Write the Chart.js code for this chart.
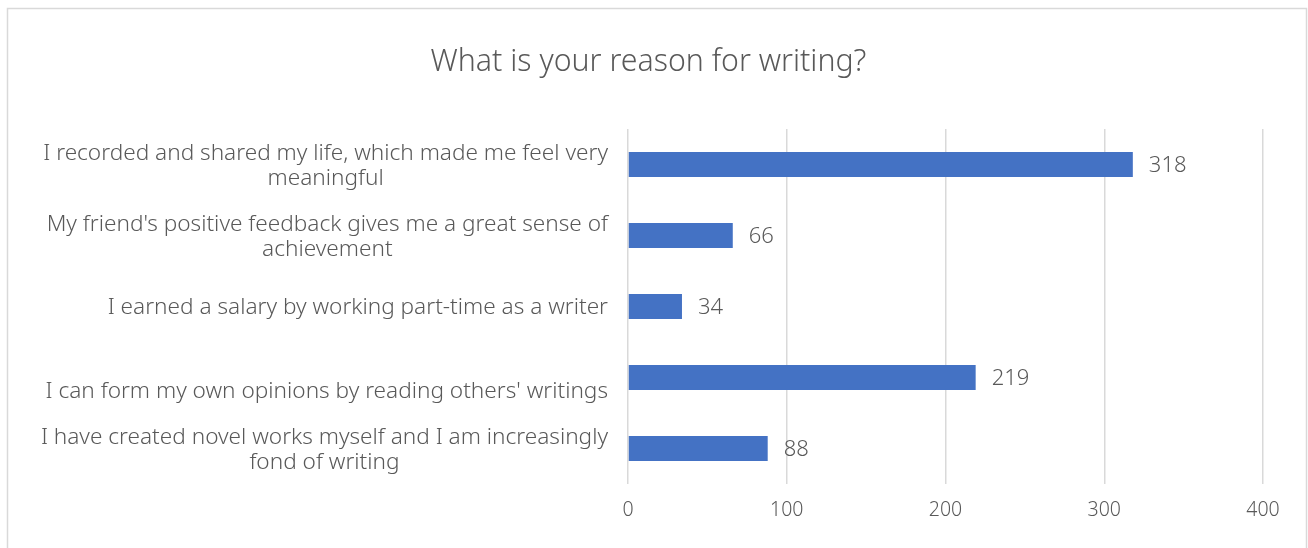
<!DOCTYPE html>
<html>
<head>
<meta charset="utf-8">
<script src="https://cdn.jsdelivr.net/npm/chart.js@4"></script>
<style>
  html, body { margin: 0; padding: 0; background: #fff; }
  #wrap { width: 1308px; height: 548px; }
</style>
</head>
<body>
<div id="wrap"><canvas id="reasonChart" width="1308" height="548"></canvas></div>
<script>
const chartTitle = 'What is your reason for writing?';
// label lines as they appear in the original (4th label has an empty first line)
const reasons = [
    ['I recorded and shared my life, which made me feel very', 'meaningful'],
    ["My friend's positive feedback gives me a great sense of", 'achievement'],
    ['I earned a salary by working part-time as a writer'],
    ['', "I can form my own opinions by reading others' writings"],
    ['I have created novel works myself and I am increasingly', 'fond of writing']
];
const counts = [318, 66, 34, 219, 88];
const xTicks = [0, 100, 200, 300, 400];

const FONT = '"Noto Sans", sans-serif';
const TEXT = '#595959';

// frame round the whole chart
const framePlugin = {
    id: 'frame',
    beforeDraw(chart) {
        const ctx = chart.ctx;
        ctx.save();
        ctx.strokeStyle = '#d9d9d9';
        ctx.lineWidth = 1.5;
        ctx.strokeRect(7.5, 8.5, 1299, 560);
        ctx.restore();
    }
};

// category labels: block right-aligned, lines centred inside the block
const categoryLabels = {
    id: 'categoryLabels',
    afterDraw(chart) {
        const ctx = chart.ctx;
        const yScale = chart.scales.y;
        const right = chart.chartArea.left - 20;
        const lineH = 25;
        ctx.save();
        ctx.font = '300 22.6px ' + FONT;
        ctx.fillStyle = TEXT;
        ctx.textAlign = 'center';
        ctx.textBaseline = 'middle';
        reasons.forEach((lines, i) => {
            const widest = Math.max(...lines.map(l => ctx.measureText(l).width));
            const cx = right - widest / 2;
            const cy = yScale.getPixelForTick(i) + 1.5;
            lines.forEach((line, j) => {
                ctx.fillText(line, cx, cy + (j - (lines.length - 1) / 2) * lineH);
            });
        });
        ctx.restore();
    }
};

// value labels at bar ends
const valueLabels = {
    id: 'valueLabels',
    afterDatasetsDraw(chart) {
        const ctx = chart.ctx;
        const meta = chart.getDatasetMeta(0);
        ctx.save();
        ctx.font = '300 22px ' + FONT;
        ctx.fillStyle = TEXT;
        ctx.textAlign = 'left';
        ctx.textBaseline = 'middle';
        meta.data.forEach((bar, i) => {
            ctx.fillText(String(counts[i]), bar.x + 16, bar.y + 1);
        });
        ctx.restore();
    }
};

const ctx = document.getElementById('reasonChart').getContext('2d');
new Chart(ctx, {
    type: 'bar',
    data: {
        labels: reasons,
        datasets: [{
            label: 'Count',
            data: counts,
            backgroundColor: '#4472c4',
            categoryPercentage: 0.5,
            barPercentage: 0.7
        }]
    },
    options: {
        indexAxis: 'y',
        responsive: false,
        animation: false,
        layout: { padding: { top: 0, right: 45, bottom: 0, left: 34 } },
        plugins: {
            legend: { display: false },
            tooltip: { enabled: false },
            title: {
                display: true,
                text: chartTitle,
                color: TEXT,
                font: { family: FONT, size: 30.3, weight: 300, lineHeight: 1.2 },
                padding: { top: 44, bottom: 48.6 }
            }
        },
        scales: {
            x: {
                min: 0,
                max: 400,
                afterBuildTicks(scale) {
                    scale.ticks = xTicks.map(v => ({ value: v }));
                },
                afterFit(scale) { scale.height = 64; },
                grid: { color: '#d9d9d9', lineWidth: 1.5, drawTicks: false },
                border: { display: false },
                ticks: {
                    color: TEXT,
                    padding: 15,
                    font: { family: FONT, size: 19.5, weight: 300 }
                }
            },
            y: {
                afterFit(scale) { scale.width = 594; },
                grid: { display: false },
                border: { display: false },
                ticks: { display: false }
            }
        }
    },
    plugins: [framePlugin, categoryLabels, valueLabels]
});
</script>
</body>
</html>
